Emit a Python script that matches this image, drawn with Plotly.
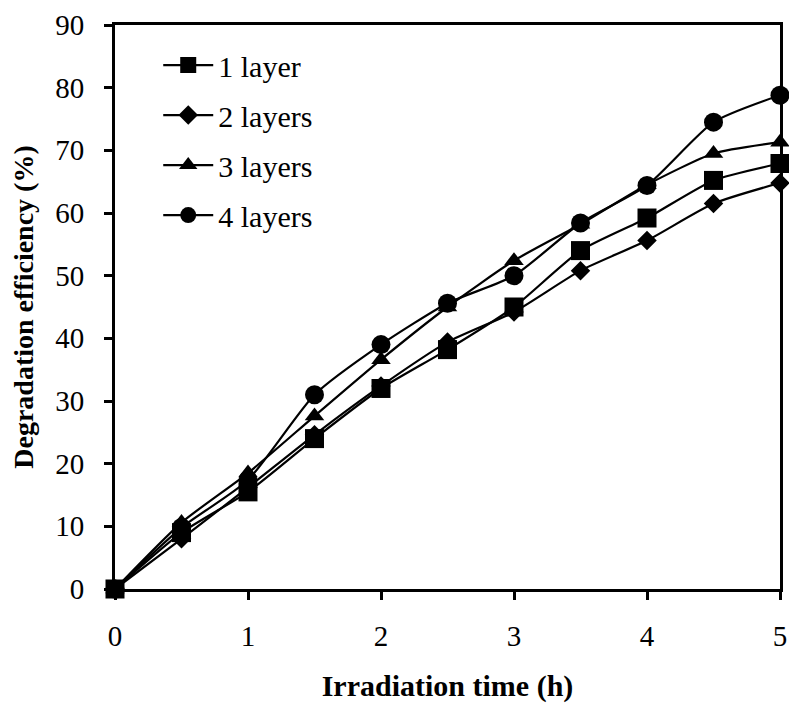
import plotly.graph_objects as go

# Irradiation time (h)
time_h = [0, 0.5, 1, 1.5, 2, 2.5, 3, 3.5, 4, 4.5, 5]

# Degradation efficiency (%) for each number of coated layers
layer_1 = [0, 9.0, 15.5, 24.0, 32.0, 38.2, 45.0, 54.0, 59.2, 65.2, 67.9]
layer_2 = [0, 8.0, 16.2, 24.6, 32.4, 39.4, 44.2, 50.8, 55.6, 61.5, 64.8]
layer_3 = [0, 10.6, 18.5, 27.6, 36.6, 45.0, 52.4, 58.2, 64.5, 69.5, 71.3]
layer_4 = [0, 9.8, 17.4, 31.0, 39.0, 45.6, 50.0, 58.4, 64.4, 74.5, 78.8]

series = [
    ("1 layer", layer_1, "square", 19),
    ("2 layers", layer_2, "diamond", 15),
    ("3 layers", layer_3, "triangle-up", 17),
    ("4 layers", layer_4, "circle", 19),
]

FONT = "Liberation Serif, Times New Roman, serif"

fig = go.Figure()
for i, (name, vals, sym, size) in enumerate(series):
    fig.add_trace(go.Scatter(
        x=time_h, y=vals, name=name, mode="lines+markers",
        line=dict(color="black", width=2.2, shape="spline", smoothing=0.6),
        marker=dict(symbol=sym, size=size, color="black"),
        legendgroup=f"g{i}", cliponaxis=False,
    ))

axis_common = dict(
    showline=True, linecolor="black", linewidth=3, mirror=True,
    ticks="outside", ticklen=8, tickwidth=3, tickcolor="black",
    showgrid=False, zeroline=False, automargin=False,
    tickfont=dict(family=FONT, size=29, color="black"),
)

fig.update_layout(
    width=789, height=703,
    margin=dict(l=115, r=9, t=25, b=114),
    paper_bgcolor="white", plot_bgcolor="white",
    font=dict(family=FONT, color="black"),
    showlegend=True,
    legend=dict(
        x=0.065, y=0.975, xanchor="left", yanchor="top",
        font=dict(family=FONT, size=30, color="black"),
        bgcolor="rgba(0,0,0,0)", traceorder="grouped", tracegroupgap=8,
        itemwidth=50,
    ),
    xaxis=dict(
        range=[0, 5], tickvals=[0, 1, 2, 3, 4, 5], ticklabelstandoff=11,
        title=dict(text="<b>Irradiation time (h)</b>", standoff=30,
                   font=dict(family=FONT, size=30, color="black")),
        **axis_common,
    ),
    yaxis=dict(
        range=[0, 90], tickvals=list(range(0, 91, 10)), ticklabelstandoff=14,
        title=dict(text="<b>Degradation efficiency (%)</b>", standoff=14,
                   font=dict(family=FONT, size=28, color="black")),
        **axis_common,
    ),
)

fig.write_html("out.html")
